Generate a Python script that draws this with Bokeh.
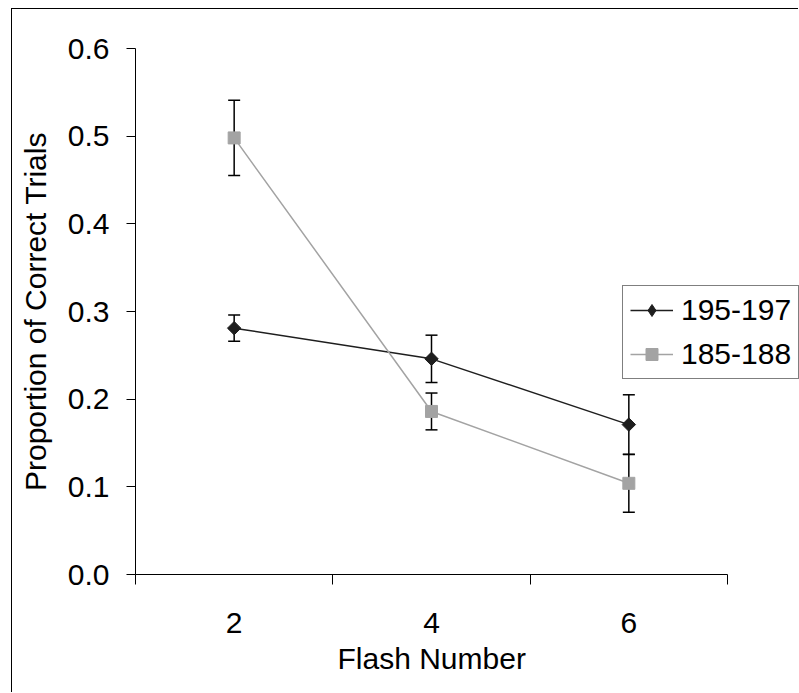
from bokeh.plotting import figure
from bokeh.models import (Range1d, FixedTicker, NumeralTickFormatter, ColumnDataSource,
                          Whisker, TeeHead, Legend, LegendItem, Title)
from bokeh.embed import file_html
from bokeh.resources import INLINE
import numpy as np

# ---- data ----
flash_numbers = [2, 4, 6]
series_a_name = "195-197"
series_a_mean = [0.281, 0.246, 0.171]
series_a_err = [0.015, 0.027, 0.034]
series_b_name = "185-188"
series_b_mean = [0.498, 0.186, 0.104]
series_b_err = [0.043, 0.021, 0.033]
y_ticks = [0.0, 0.1, 0.2, 0.3, 0.4, 0.5, 0.6]
x_boundaries = [1, 3, 5, 7]
x_title = "Flash Number"
y_title = "Proportion of Correct Trials"

FONT = "Liberation Sans"
BLACK_SERIES = "#1e1e1e"
GRAY_SERIES = "#a3a3a3"

src_a = ColumnDataSource(dict(
    x=flash_numbers, y=series_a_mean,
    lo=[m - e for m, e in zip(series_a_mean, series_a_err)],
    hi=[m + e for m, e in zip(series_a_mean, series_a_err)]))
src_b = ColumnDataSource(dict(
    x=flash_numbers, y=series_b_mean,
    lo=[m - e for m, e in zip(series_b_mean, series_b_err)],
    hi=[m + e for m, e in zip(series_b_mean, series_b_err)]))

# plot frame runs to the right window edge so the legend is not clipped;
# the axis itself is bounded to the category span 1..7
FRAME_LEFT = 123
WIDTH = 787
x_end = 1 + (WIDTH - FRAME_LEFT) / (592 / 6)

p = figure(width=WIDTH, height=684, x_range=Range1d(1, x_end), y_range=Range1d(0, 0.6),
           output_backend="svg", toolbar_location=None,
           min_border_left=FRAME_LEFT, min_border_right=0, min_border_top=39, min_border_bottom=119)
p.styles = {"margin-left": "11px", "margin-top": "8px",
            "border-left": "1px solid black", "border-top": "1px solid black"}
p.outline_line_color = None
p.grid.visible = False
p.background_fill_color = "white"
p.border_fill_color = "white"

# error bars
for src in (src_a, src_b):
    w = Whisker(source=src, base="x", upper="hi", lower="lo", dimension="height",
                line_color="black", line_width=1.5, level="underlay",
                upper_head=TeeHead(size=12, line_color="black", line_width=1.5),
                lower_head=TeeHead(size=12, line_color="black", line_width=1.5))
    p.add_layout(w)

la = p.line("x", "y", source=src_a, line_color=BLACK_SERIES, line_width=1.5)
ma = p.scatter("x", "y", source=src_a, marker="square", size=9.5, angle=np.pi / 4,
               fill_color=BLACK_SERIES, line_color=BLACK_SERIES)
lb = p.line("x", "y", source=src_b, line_color=GRAY_SERIES, line_width=1.5)
mb = p.scatter("x", "y", source=src_b, marker="square", size=12,
               fill_color=GRAY_SERIES, line_color=GRAY_SERIES)

# legend-only diamond (not drawn in plot area)
leg_src = ColumnDataSource(dict(x=[np.nan], y=[np.nan]))
ld = p.scatter("x", "y", source=leg_src, marker="diamond", size=12,
               fill_color=BLACK_SERIES, line_color=BLACK_SERIES)

legend = Legend(items=[LegendItem(label=series_a_name, renderers=[la, ld]),
                       LegendItem(label=series_b_name, renderers=[lb, mb])],
                location=(487, 195), orientation="vertical",
                glyph_width=43, glyph_height=30, label_height=30,
                label_standoff=8, padding=7, spacing=10, margin=0,
                label_text_font=FONT, label_text_font_size="30px", label_text_color="black",
                border_line_color="black", border_line_width=1,
                background_fill_color="white", background_fill_alpha=1.0)
p.add_layout(legend)

# axes
xa = p.xaxis[0]
xa.bounds = (1, 7)
xa.ticker = FixedTicker(ticks=flash_numbers, minor_ticks=x_boundaries)
xa.major_tick_out = 0
xa.major_tick_in = 0
xa.minor_tick_out = 10
xa.minor_tick_in = 0
xa.minor_tick_line_color = "black"
xa.axis_line_color = "black"
xa.major_label_standoff = 28
xa.major_label_text_font = FONT
xa.major_label_text_font_size = "30px"
xa.major_label_text_color = "black"

# x-axis title centred under the bounded axis (not the wider frame)
xt = Title(text=x_title, align="left", offset=202, standoff=8,
           text_font=FONT, text_font_size="30px", text_font_style="normal",
           text_color="black")
p.add_layout(xt, "below")

ya = p.yaxis[0]
ya.ticker = FixedTicker(ticks=y_ticks, minor_ticks=[])
ya.formatter = NumeralTickFormatter(format="0.0")
ya.major_tick_out = 9
ya.major_tick_in = 0
ya.major_tick_line_color = "black"
ya.axis_line_color = "black"
ya.major_label_standoff = 17
ya.major_label_text_font = FONT
ya.major_label_text_font_size = "30px"
ya.major_label_text_color = "black"
ya.axis_label = y_title
ya.axis_label_text_font = FONT
ya.axis_label_text_font_size = "30px"
ya.axis_label_text_font_style = "normal"
ya.axis_label_text_color = "black"
ya.axis_label_standoff = 13

open("out.html", "w").write(file_html(p, INLINE))
